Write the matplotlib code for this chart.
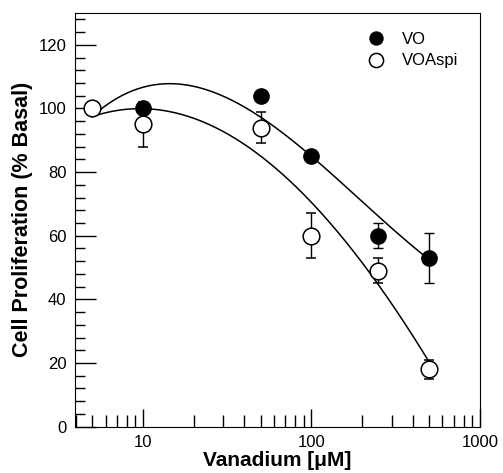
import numpy as np
from matplotlib import pyplot as plt
from matplotlib.ticker import MultipleLocator, LogLocator, FixedLocator

plt.rcParams['font.family'] = ['Liberation Sans', 'DejaVu Sans']

# measured points (uM, % basal)
vo_x = [10, 50, 100, 250, 500]
vo_y = [100, 104, 85, 60, 53]
vo_err = [0, 0, 0, 4, 8]

asp_x = [5, 10, 50, 100, 250, 500]
asp_y = [100, 95, 94, 60, 49, 18]
asp_err = [0, 7, 5, 7, 4, 3]

# fitted curves
fit_vo_x = [5, 8, 14.8, 25, 43, 70, 100, 250, 500]
fit_vo_y = [97.8, 104.5, 107.3, 105.5, 99.6, 92.6, 85, 65, 53]
fit_asp_x = [5, 7, 10, 24, 43, 70, 100, 177, 244, 493]
fit_asp_y = [98.0, 99.0, 99.0, 96.3, 87.5, 78.7, 70, 55.5, 45, 21]

fig = plt.figure(figsize=(5.03, 4.73), dpi=100)
ax = fig.add_axes([0.149, 0.098, 0.805, 0.8745])

for fx, fy in [(fit_vo_x, fit_vo_y), (fit_asp_x, fit_asp_y)]:
    lx = np.log10(fx)
    c = np.polyfit(lx, fy, 3)
    t = np.linspace(lx[0], lx[-1], 200)
    ax.plot(10 ** t, np.polyval(c, t), color='black', lw=1.1, zorder=2)

ax.errorbar(vo_x, vo_y, yerr=vo_err, fmt='o', ms=11, mfc='black', mec='black',
            ecolor='black', elinewidth=1, capsize=3.5, label='VO', zorder=3)
ax.errorbar(asp_x, asp_y, yerr=asp_err, fmt='o', ms=12, mfc='white', mec='black',
            mew=1.1, ecolor='black', elinewidth=1, capsize=3.5, label='VOAspi', zorder=3)

ax.set_xscale('log')
ax.set_xlim(3.95, 1000)
ax.set_ylim(0, 130)

ax.yaxis.set_major_locator(FixedLocator([0, 20, 40, 60, 80, 100, 120]))
ax.yaxis.set_minor_locator(MultipleLocator(4))
ax.xaxis.set_major_locator(FixedLocator([10, 100, 1000]))
ax.xaxis.set_minor_locator(LogLocator(base=10, subs=np.arange(2, 10)))
ax.xaxis.set_minor_formatter(plt.NullFormatter())
ax.set_xticklabels(['10', '100', '1000'])

ax.tick_params(which='major', direction='in', length=15, width=1, labelsize=12, pad=6)
ax.tick_params(which='minor', direction='in', length=7, width=1)
ax.tick_params(axis='x', which='major', length=13)
ax.tick_params(axis='x', which='minor', length=9)

ax.set_xlabel('Vanadium [\u03bcM]', fontsize=15, fontweight='bold')
ax.xaxis.set_label_coords(0.5, -0.06)
ax.set_ylabel('Cell Proliferation (% Basal)', fontsize=15.5, fontweight='bold', labelpad=4)

handles, labels = ax.get_legend_handles_labels()
handles = [h[0] for h in handles]
ax.legend(handles, labels, loc='upper right', frameon=False, fontsize=12,
          handletextpad=0.6, labelspacing=0.38, bbox_to_anchor=(0.985, 0.99),
          markerscale=0.85)

fig.savefig('out.png', dpi=100)
